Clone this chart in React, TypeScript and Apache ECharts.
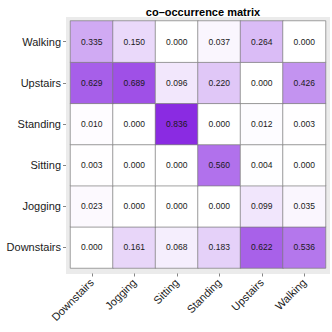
import React, { useEffect, useRef } from "react";
import * as echarts from "echarts";

const xCategories = ["Downstairs", "Jogging", "Sitting", "Standing", "Upstairs", "Walking"];
const yCategories = ["Downstairs", "Jogging", "Sitting", "Standing", "Upstairs", "Walking"];

// rows indexed by y category (bottom to top), values across x categories
const rowDownstairs = [0.000, 0.161, 0.068, 0.183, 0.622, 0.536];
const rowJogging = [0.023, 0.000, 0.000, 0.000, 0.099, 0.035];
const rowSitting = [0.003, 0.000, 0.000, 0.560, 0.004, 0.000];
const rowStanding = [0.010, 0.000, 0.836, 0.000, 0.012, 0.003];
const rowUpstairs = [0.629, 0.689, 0.096, 0.220, 0.000, 0.426];
const rowWalking = [0.335, 0.150, 0.000, 0.037, 0.264, 0.000];

const rows = [rowDownstairs, rowJogging, rowSitting, rowStanding, rowUpstairs, rowWalking];

const FONT = "'Liberation Sans', Arial, Helvetica, sans-serif";

export default function App() {
  const ref = useRef<HTMLDivElement>(null);

  useEffect(() => {
    if (!ref.current) return;
    const chart = echarts.init(ref.current, undefined, { renderer: "svg" });
    const data: [number, number, number][] = [];
    rows.forEach((row, yi) => {
      row.forEach((v, xi) => data.push([xi, yi, v]));
    });
    const maxVal = Math.max(...data.map((d) => d[2]));

    chart.setOption({
      animation: false,
      backgroundColor: "#ffffff",
      title: {
        text: "co\u2013occurrence matrix",
        left: 198,
        top: 1,
        textAlign: "center",
        textStyle: { fontFamily: FONT, fontSize: 11, fontWeight: "bold", color: "#000" },
      },
      graphic: [
        {
          type: "rect",
          z: -10,
          shape: { x: 66, y: 17, width: 264, height: 257 },
          style: { fill: "#EBEBEB" },
        },
      ],
      grid: { left: 70.5, right: 6.5, top: 21, bottom: 64, containLabel: false },
      xAxis: {
        type: "category",
        data: xCategories,
        offset: 5.5,
        axisLine: { show: false },
        axisTick: { show: true, alignWithLabel: true, length: 3, lineStyle: { color: "#333", width: 0.6 } },
        axisLabel: {
          rotate: 45,
          margin: 7,
          fontFamily: FONT,
          fontSize: 11,
          color: "#1a1a1a",
        },
        splitLine: { show: false },
      },
      yAxis: {
        type: "category",
        data: yCategories,
        offset: 4.5,
        axisLine: { show: false },
        axisTick: { show: true, alignWithLabel: true, length: 3, lineStyle: { color: "#333", width: 0.6 } },
        axisLabel: {
          margin: 5,
          fontFamily: FONT,
          fontSize: 11,
          color: "#1a1a1a",
        },
        splitLine: { show: false },
      },
      visualMap: {
        show: false,
        min: 0,
        max: maxVal,
        dimension: 2,
        inRange: { color: ["#FFFFFF", "#8A2BE2"] },
      },
      series: [
        {
          type: "heatmap",
          data,
          label: {
            show: true,
            fontFamily: FONT,
            fontSize: 8.5,
            color: "#1a1a1a",
            formatter: (p: any) => (p.value[2] as number).toFixed(3),
          },
          itemStyle: { borderColor: "#7a7a7a", borderWidth: 0.7 },
          emphasis: { disabled: true },
        },
      ],
    });
    return () => chart.dispose();
  }, []);

  return (
    <div
      ref={ref}
      style={{ position: "fixed", left: 0, top: 0, width: 332, height: 332 }}
    />
  );
}
